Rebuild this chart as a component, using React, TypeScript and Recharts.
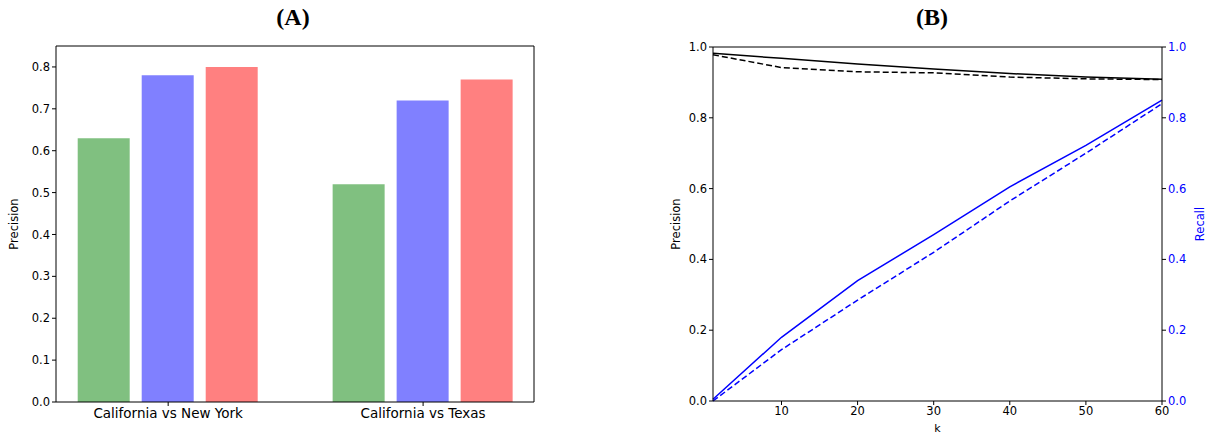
import React from "react";
import {
  BarChart,
  Bar,
  LineChart,
  Line,
  XAxis,
  YAxis,
  ReferenceLine,
} from "recharts";

// panel A
const categories = ["California vs New York", "California vs Texas"];
const groupPos = [0, 1];
const greenVals = [0.63, 0.52];
const blueVals = [0.78, 0.72];
const redVals = [0.8, 0.77];
const precisionTicksA = [0, 0.1, 0.2, 0.3, 0.4, 0.5, 0.6, 0.7, 0.8];

// panel B
const kVals = [1, 10, 20, 30, 40, 50, 60];
const precSolid = [0.982, 0.968, 0.952, 0.938, 0.925, 0.915, 0.909];
const precDashed = [0.978, 0.942, 0.93, 0.927, 0.915, 0.91, 0.908];
const recallSolid = [0.005, 0.18, 0.34, 0.47, 0.605, 0.722, 0.85];
const recallDashed = [0.0, 0.145, 0.285, 0.42, 0.565, 0.7, 0.84];
const kTicks = [10, 20, 30, 40, 50, 60];
const unitTicks = [0, 0.2, 0.4, 0.6, 0.8, 1.0];

const barData = categories.map((name, i) => ({
  x: groupPos[i],
  name,
  green: greenVals[i],
  blue: blueVals[i],
  red: redVals[i],
}));

const lineData = kVals.map((k, i) => ({
  k,
  precSolid: precSolid[i],
  precDashed: precDashed[i],
  recallSolid: recallSolid[i],
  recallDashed: recallDashed[i],
}));

const font = "DejaVu Sans, sans-serif";
const tickStyle = { fill: "#000", fontSize: 11.5, fontFamily: font };
const axisLine = { stroke: "#000", strokeWidth: 1 };

const titleStyle: React.CSSProperties = {
  position: "absolute",
  top: 4,
  fontFamily: "Liberation Serif, serif",
  fontWeight: "bold",
  fontSize: 24,
  transform: "translateX(-50%)",
};

export default function App() {
  return (
    <div
      style={{
        position: "absolute",
        left: 0,
        top: 0,
        width: 1214,
        height: 435,
        background: "#fff",
      }}
    >
      <div style={{ ...titleStyle, left: 293 }}>(A)</div>
      <div style={{ ...titleStyle, left: 932 }}>(B)</div>

      <div style={{ position: "absolute", left: 0, top: 0 }}>
        <BarChart
          width={560}
          height={435}
          data={barData}
          margin={{ top: 46, right: 26, bottom: 3, left: 10 }}
          barSize={52}
          barGap={12}
        >
          <XAxis
            dataKey="x"
            type="number"
            domain={[-0.44, 1.435]}
            ticks={groupPos}
            tickFormatter={(v: number) => categories[groupPos.indexOf(v)] ?? ""}
            tick={{ ...tickStyle, fontSize: 13.5 }}
            tickSize={4}
            tickLine={axisLine}
            axisLine={axisLine}
            height={30}
            allowDataOverflow
          />
          <YAxis
            type="number"
            domain={[0, 0.85]}
            ticks={precisionTicksA}
            tickFormatter={(v: number) => v.toFixed(1)}
            tick={tickStyle}
            tickSize={4}
            tickLine={axisLine}
            axisLine={axisLine}
            width={46}
            allowDataOverflow
            label={{
              value: "Precision",
              angle: -90,
              position: "insideLeft",
              offset: 4,
              style: { textAnchor: "middle", fontSize: 11.5, fontFamily: font, fill: "#000" },
            }}
          />
          <Bar dataKey="green" fill="#80c080" isAnimationActive={false} />
          <Bar dataKey="blue" fill="#8080ff" isAnimationActive={false} />
          <Bar dataKey="red" fill="#ff8080" isAnimationActive={false} />
          <ReferenceLine y={0.85} stroke="#000" strokeWidth={1} />
          <ReferenceLine x={1.435} stroke="#000" strokeWidth={1} />
        </BarChart>
      </div>

      <div style={{ position: "absolute", left: 640, top: 0 }}>
        <LineChart
          width={574}
          height={435}
          data={lineData}
          margin={{ top: 47, right: 12, bottom: 4, left: 23 }}
        >
          <XAxis
            dataKey="k"
            type="number"
            domain={[1, 60]}
            ticks={kTicks}
            tick={tickStyle}
            tickSize={4}
            tickLine={axisLine}
            axisLine={axisLine}
            height={30}
            label={{
              value: "k",
              position: "insideBottom",
              offset: -1,
              style: { fontSize: 11, fontFamily: font, fill: "#000" },
            }}
          />
          <YAxis
            yAxisId="left"
            type="number"
            domain={[0, 1]}
            ticks={unitTicks}
            tickFormatter={(v: number) => v.toFixed(1)}
            tick={tickStyle}
            tickSize={4}
            tickLine={axisLine}
            axisLine={axisLine}
            width={50}
            label={{
              value: "Precision",
              angle: -90,
              position: "insideLeft",
              offset: 13,
              style: { textAnchor: "middle", fontSize: 11.5, fontFamily: font, fill: "#000" },
            }}
          />
          <YAxis
            yAxisId="right"
            orientation="right"
            type="number"
            domain={[0, 1]}
            ticks={unitTicks}
            tickFormatter={(v: number) => v.toFixed(1)}
            tick={{ ...tickStyle, fill: "#0000ff" }}
            tickSize={4}
            tickLine={axisLine}
            axisLine={axisLine}
            width={40}
            label={{
              value: "Recall",
              angle: -90,
              position: "insideRight",
              offset: 2,
              style: { textAnchor: "middle", fontSize: 11.5, fontFamily: font, fill: "#0000ff" },
            }}
          />
          <ReferenceLine yAxisId="left" y={1} stroke="#000" strokeWidth={1} />
          <Line
            yAxisId="left"
            type="linear"
            dataKey="precSolid"
            stroke="#000"
            strokeWidth={1.5}
            dot={false}
            isAnimationActive={false}
          />
          <Line
            yAxisId="left"
            type="linear"
            dataKey="precDashed"
            stroke="#000"
            strokeWidth={1.5}
            strokeDasharray="6 3"
            dot={false}
            isAnimationActive={false}
          />
          <Line
            yAxisId="right"
            type="linear"
            dataKey="recallSolid"
            stroke="#0000ff"
            strokeWidth={1.5}
            dot={false}
            isAnimationActive={false}
          />
          <Line
            yAxisId="right"
            type="linear"
            dataKey="recallDashed"
            stroke="#0000ff"
            strokeWidth={1.5}
            strokeDasharray="6 3"
            dot={false}
            isAnimationActive={false}
          />
        </LineChart>
      </div>
    </div>
  );
}
